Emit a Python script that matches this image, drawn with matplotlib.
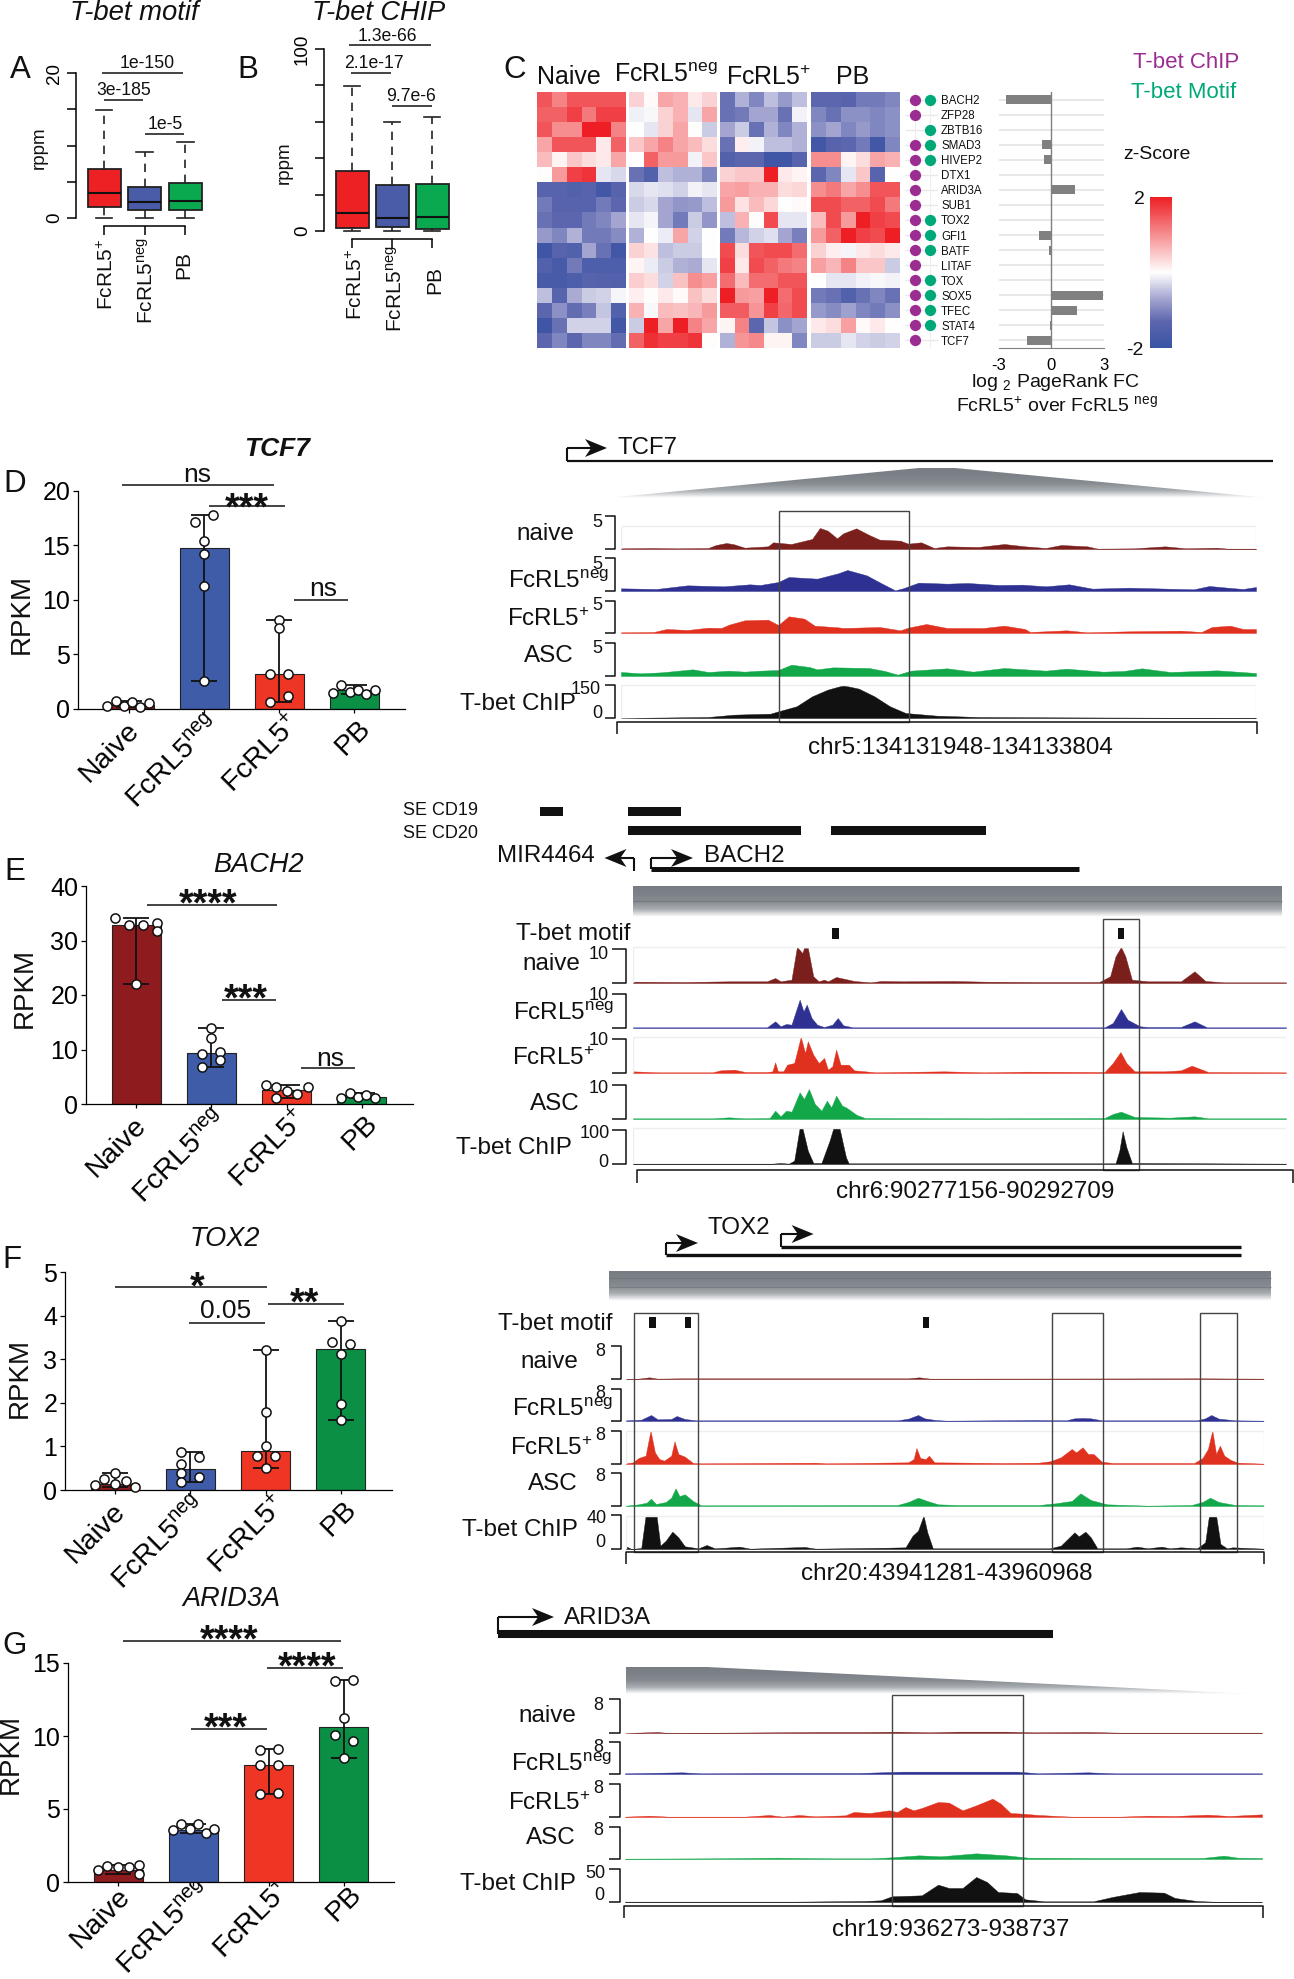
import numpy as np
import matplotlib
matplotlib.use('Agg')
import matplotlib.pyplot as plt
from matplotlib.colors import LinearSegmentedColormap
from matplotlib.patches import Polygon, Rectangle
from matplotlib.transforms import ScaledTranslation

plt.rcParams['font.family'] = ['Liberation Sans', 'DejaVu Sans']
plt.rcParams['mathtext.fontset'] = 'custom'
plt.rcParams['mathtext.rm'] = 'Liberation Sans'
plt.rcParams['mathtext.it'] = 'Liberation Sans:italic'
plt.rcParams['mathtext.bf'] = 'Liberation Sans:bold'

W, H = 1294, 1979
NEG = r'FcRL5$^{\mathrm{neg}}$'
POS = r'FcRL5$^{+}$'

# A / B boxplots: whislo, q1, median, q3, whishi
box_names = [POS, NEG, 'PB']
box_colors = ['#ed2024', '#4a5ba8', '#0aa84f']
motif_pos = [0, 1.5, 3.4, 6.8, 14.9]
motif_neg = [0, 1.05, 2.2, 4.25, 9.15]
motif_pb = [0, 1.05, 2.4, 4.85, 10.5]
chip_pos = [0, 1.5, 9.9, 33, 79.8]
chip_neg = [0, 2, 7.3, 25.3, 60]
chip_pb = [0, 1.3, 7.7, 25.9, 62.6]

# C heatmap z-scores
genes = ['BACH2', 'ZFP28', 'ZBTB16', 'SMAD3', 'HIVEP2', 'DTX1', 'ARID3A', 'SUB1', 'TOX2',
         'GFI1', 'BATF', 'LITAF', 'TOX', 'SOX5', 'TFEC', 'STAT4', 'TCF7']
has_chip = [1, 1, 0, 1, 1, 1, 1, 1, 1, 1, 1, 1, 1, 1, 1, 1, 1]
has_motif = [1, 0, 1, 1, 1, 0, 0, 0, 1, 1, 1, 0, 1, 1, 1, 1, 0]
pagerank_fc = [-2.6, 0, 0, -0.55, -0.42, 0, 1.35, 0, 0, -0.72, -0.15, 0, 0, 2.95, 1.45, -0.05, -1.4]
z_naive = [[1.5, 1.1, 1.5, 1.5, 1.5, 1.5], [1.4, 1.4, 1.7, 1.2, 1.7, 1.7], [1.5, 1, 1, 2, 2, 1.1],
           [.8, 1.5, 1.5, 1.5, .2, 1.4], [.6, .1, .5, .3, .2, .8], [.03, .9, 1.7, 1.8, -.2, -.3],
           [-1.4, -1.4, -1.5, -1.4, -1.8, -1.4], [-1.1, -1.4, -1.4, -1.4, -1.1, -1.3],
           [-1.2, -1.3, -1.3, -1.1, -1, -.7], [-.8, -1, -.6, -1.1, -1.1, -.95],
           [-1.9, -1.4, -1.5, -.7, -1.2, -1.8], [-1.5, -1.7, -1.1, -1.6, -1.6, -1.6],
           [-1.7, -1.7, -1.6, -1.4, -1.45, -1.5], [-.5, -1.4, -.65, -.4, -.35, -.07],
           [-1.3, -.9, -1.25, -1.05, -.45, -1.5], [-1.9, -1.2, -.35, -.35, -.35, -1.8],
           [-1.3, -1, -1.3, -1, -1, -1.25]]
z_neg = [[.4, .05, .8, .7, .2, .4], [-.12, -.06, .4, .7, -.2, .8], [0, -.2, .4, .8, .03, -.4],
         [.5, .8, 1.1, .8, .6, .3], [0, 1.4, .9, .9, -.1, .5], [-1.2, -1.5, -.5, -.6, -.6, -1],
         [-.3, -.2, -.25, -.35, -.1, -.2], [-.4, -.3, -.7, -.85, -.8, -.5],
         [-.2, -.08, -.7, -1.1, -.4, -.85], [-.6, 0, -.15, .8, -.35, 0],
         [.4, .25, -.5, -.4, -.4, 0], [.1, -.15, -.4, -.6, -.65, -.2],
         [.45, .3, -.35, .55, 1, .85], [.15, .02, .2, .06, .55, .3],
         [.7, -.06, .6, .55, .65, .9], [-.4, 2, .8, 2, 1.1, .8], [1.4, 1.85, 1.7, 1.7, 1.8, .02]]
z_pos = [[-1.2, -.6, -1, -.5, -.8, -.5], [-1.2, -1.1, -.7, -.7, -1.2, -.1], [-.7, -.4, -1.2, -.6, -1, -.6],
         [-1.2, .15, -.1, -.5, -.5, -.6], [-1.5, -1.3, -1.3, -1.9, -1.9, -1.4], [.4, .5, .5, 2, .2, .1],
         [.8, .85, .7, .7, .3, .35], [.9, .25, .6, .35, 0, .05], [-.5, .7, .02, 1.6, -.2, -.2],
         [-1.1, -.55, -.35, -.25, -.7, -1.05], [1.6, .3, 1.5, 1.6, 1.6, 1.3], [1.7, .2, 1.6, 1.4, 1.2, 1.1],
         [1.3, .6, 1.3, 1.3, 1.5, 1.5], [2, .9, .85, 2, 1.3, 1.6], [1.45, 1.45, .95, 1.7, 1.35, 1.6],
         [.1, 1.1, -1.3, -.45, -.9, -.7], [-.6, .95, 1.05, .1, .1, -1]]
z_pb = [[-1.3, -1.3, -1.4, -1.1, -1.1, -1], [-1, -1.2, -.9, -.9, -1, -.9], [-.9, -.7, -1, -.8, -1, -.9],
        [-1.8, -1.4, -1.3, -1.1, -1.8, -1], [1, 1, .1, .3, .8, .7], [-1.3, -1, -.2, .5, -1.4, 0],
        [1, 1.2, .8, 1, 1.5, 1.5], [1.6, 1.6, 1.4, 1.4, 1.6, 1.2], [.6, 1.6, .9, 2, 1.7, 1.6],
        [.9, 1.4, 2, 1.7, 1.6, 2], [.4, .15, -.08, .2, .3, .2], [.85, .65, 1.1, .5, .5, -.4],
        [0, -.2, -.2, -.1, -.05, -.1], [-1.1, -1.2, -1.5, -1.2, -1, -1.2], [-.8, -.95, -.75, -1, -1.1, -.9],
        [.2, .3, .85, .05, .2, 0], [-.4, -.4, -.2, -.35, -.4, -.35]]

# D-G bars with replicate points
groups = ['Naive', NEG, POS, 'PB']
bar_colors = ['#8e1b1e', '#3f5ca9', '#ef3524', '#0a8f45']

tcf7_bars = [0.4, 14.8, 3.2, 1.7]
tcf7_pts = [[.25, .7, .3, .6, .2, .55], [17.15, 17.8, 15.4, 14.25, 11.3, 2.57],
            [8.2, 7.4, 3.2, 3.25, .65, 1.15], [1.5, 2.2, 1.55, 1.7, 1.4, 1.7]]
tcf7_off = [[-.29, -.18, -.07, .04, .15, .26], [-.115, .115, 0, 0, 0, 0],
            [0, 0, -.115, .115, -.115, .115], [-.28, -.17, -.06, .05, .16, .28]]

bach2_bars = [32.8, 9.3, 2.6, 1.3]
bach2_pts = [[34.1, 32.8, 32.9, 33.3, 31.7, 22], [13.9, 12.2, 9.2, 9.5, 8, 6.7],
             [3.4, 3.05, 2.4, 1.8, 1.15, 3.2], [1.15, 2, 1.2, 1.6, 1.1]]
bach2_off = [[-.28, -.09, .09, .28, .28, 0], [0, 0, -.12, .12, .12, -.12],
             [-.28, -.14, 0, .14, -.14, .28], [-.28, -.16, -.05, .06, .17]]

tox2_bars = [.13, .48, .9, 3.24]
tox2_pts = [[.11, .25, .38, .14, .21, .06], [.88, .76, .59, .38, .3, .18],
            [3.22, 1.78, 1.02, .79, .78, .5], [3.88, 3.4, 3.35, 3.12, 1.97, 1.6]]
tox2_off = [[-.27, -.14, 0, 0, .14, .27], [-.12, .12, -.12, -.12, .12, -.12],
            [0, 0, 0, -.12, .12, 0], [0, -.12, .12, 0, 0, 0]]

arid3a_bars = [.8, 3.55, 8.0, 10.65]
arid3a_pts = [[.82, 1.12, 1.03, 1.05, 1.17, .55], [3.55, 3.94, 3.62, 3.96, 3.34, 3.66],
              [9.02, 9.14, 8.04, 8.04, 6, 6.11], [13.76, 13.83, 11.22, 10.1, 9.64, 8.52]]
arid3a_off = [[-.27, -.14, 0, .14, .28, .28], [-.27, -.16, -.05, .06, .17, .28],
              [-.12, .12, -.12, .12, -.12, .12], [-.12, .12, 0, -.12, .12, 0]]

# browser tracks, (position, height) read along each locus
tcf7_naive = [(272, 2), (330, 3), (380, 2), (440, 3), (455, 12), (475, 18), (490, 14), (510, 4), (555, 8), (565, 20),
              (600, 15), (640, 30), (655, 63), (670, 55), (688, 32), (700, 47), (725, 62), (750, 42), (770, 28),
              (810, 25), (825, 16), (850, 20), (875, 3), (900, 8), (960, 6), (1010, 15), (1050, 8), (1090, 3),
              (1120, 12), (1170, 8), (1190, 1), (1260, 2), (1320, 8), (1360, 2), (1420, 4), (1440, 1), (1495, 1)]
tcf7_neg = [(272, 8), (340, 6), (400, 17), (470, 14), (520, 20), (540, 18), (575, 27), (595, 42), (650, 37), (690, 53),
            (708, 63), (745, 47), (775, 22), (800, 2), (815, 8), (845, 25), (900, 22), (940, 24), (1000, 18),
            (1045, 19), (1090, 14), (1135, 20), (1180, 7), (1250, 10), (1300, 8), (1375, 5), (1405, 15), (1440, 10),
            (1470, 6), (1495, 12)]
tcf7_pos = [(272, 2), (335, 3), (360, 12), (400, 9), (440, 16), (465, 15), (480, 25), (510, 38), (555, 40), (575, 24),
            (595, 50), (625, 43), (645, 22), (690, 17), (700, 15), (770, 18), (810, 8), (825, 16), (860, 27),
            (900, 15), (970, 15), (1010, 22), (1050, 12), (1060, 3), (1130, 8), (1170, 2), (1250, 5), (1350, 7),
            (1390, 3), (1410, 18), (1445, 22), (1470, 12), (1495, 12)]
tcf7_asc = [(272, 12), (310, 8), (350, 11), (410, 20), (440, 12), (480, 16), (510, 13), (540, 16), (575, 18), (600, 34),
            (635, 27), (650, 20), (680, 26), (750, 24), (780, 15), (805, 4), (830, 16), (900, 23), (950, 13),
            (1010, 24), (1090, 16), (1130, 22), (1200, 13), (1240, 15), (1275, 23), (1330, 12), (1420, 17), (1495, 9)]
tcf7_chip = [(272, 0), (440, 3), (490, 10), (560, 13), (575, 20), (610, 35), (640, 65), (670, 85), (700, 98), (730, 88),
             (760, 65), (790, 35), (820, 15), (880, 7), (960, 3), (1100, 2), (1300, 1), (1495, 0)]

bach2_naive = [(354, 4), (450, 3), (530, 5), (600, 5), (615, 15), (625, 5), (645, 10), (655, 108), (665, 90), (668, 105),
               (675, 105), (685, 20), (695, 5), (705, 10), (712, 5), (727, 18), (760, 6), (790, 2), (810, 6), (850, 5),
               (940, 6), (1000, 4), (1100, 3), (1210, 3), (1230, 20), (1240, 80), (1250, 108), (1258, 80), (1270, 10),
               (1300, 5), (1360, 5), (1385, 35), (1405, 6), (1440, 2), (1553, 2)]
bach2_neg = [(354, 2), (500, 2), (600, 2), (615, 20), (625, 5), (635, 12), (645, 10), (660, 85), (667, 50), (673, 70),
             (682, 30), (692, 10), (705, 3), (720, 10), (730, 30), (740, 8), (758, 2), (1220, 2), (1235, 15), (1250, 57),
             (1262, 25), (1285, 5), (1300, 3), (1360, 3), (1385, 20), (1408, 2), (1553, 2)]
bach2_pos = [(354, 5), (400, 2), (500, 2), (515, 8), (540, 10), (560, 3), (600, 3), (610, 5), (615, 32), (620, 5),
             (630, 5), (637, 25), (650, 30), (662, 108), (670, 60), (675, 95), (685, 55), (695, 30), (705, 45), (712, 10),
             (720, 20), (727, 70), (735, 25), (750, 25), (760, 8), (780, 5), (800, 2), (925, 5), (1000, 2), (1075, 4),
             (1220, 3), (1235, 30), (1249, 63), (1260, 30), (1275, 5), (1330, 5), (1360, 8), (1380, 22), (1410, 3),
             (1553, 2)]
bach2_asc = [(354, 2), (500, 2), (530, 5), (560, 2), (605, 3), (615, 25), (625, 8), (635, 25), (645, 22), (660, 80),
             (668, 60), (677, 90), (688, 45), (700, 25), (710, 55), (718, 35), (727, 70), (738, 40), (745, 35), (765, 12),
             (780, 3), (1000, 2), (1220, 3), (1235, 15), (1250, 22), (1275, 6), (1340, 4), (1385, 8), (1410, 2), (1553, 2)]
bach2_chip = [(354, 1), (610, 1), (625, 3), (640, 1), (650, 10), (660, 108), (665, 108), (675, 40), (685, 3), (700, 3),
              (715, 70), (722, 108), (733, 108), (745, 20), (750, 2), (1240, 2), (1247, 40), (1253, 98), (1260, 50),
              (1270, 3), (1553, 1)]

tox2_naive = [(342, 0), (365, 1), (385, 5), (400, 1), (440, 2), (860, 2), (880, 5), (900, 1), (1400, 2), (1512, 1)]
tox2_neg = [(342, 2), (370, 4), (388, 18), (400, 5), (425, 6), (435, 15), (450, 6), (470, 2), (840, 2), (860, 7),
            (878, 18), (890, 8), (910, 3), (930, 1), (1090, 3), (1150, 2), (1165, 8), (1180, 9), (1195, 8), (1215, 2),
            (1390, 2), (1405, 8), (1416, 18), (1430, 7), (1460, 2), (1512, 1)]
tox2_pos = [(342, 2), (355, 5), (365, 18), (378, 25), (387, 100), (395, 35), (403, 15), (412, 10), (425, 25), (431, 68),
            (438, 30), (450, 22), (465, 3), (480, 2), (690, 4), (710, 2), (860, 5), (870, 15), (875, 48), (882, 18),
            (892, 15), (898, 25), (908, 5), (1040, 3), (1100, 4), (1120, 8), (1140, 20), (1160, 45), (1168, 35),
            (1180, 50), (1190, 30), (1200, 30), (1215, 7), (1235, 3), (1385, 3), (1400, 18), (1410, 45), (1418, 100),
            (1425, 30), (1432, 55), (1440, 25), (1452, 12), (1465, 4), (1512, 1)]
tox2_asc = [(342, 1), (365, 5), (380, 10), (388, 22), (397, 6), (415, 12), (425, 25), (433, 53), (440, 30), (450, 35),
            (465, 15), (480, 2), (840, 3), (860, 12), (878, 25), (895, 15), (915, 5), (950, 3), (1100, 3), (1130, 8),
            (1160, 15), (1176, 38), (1195, 18), (1225, 5), (1300, 1), (1380, 3), (1400, 12), (1414, 25), (1430, 12),
            (1460, 3), (1512, 2)]
tox2_chip = [(342, 8), (352, 0), (370, 3), (378, 100), (398, 100), (405, 10), (415, 25), (427, 52), (438, 35), (450, 8),
             (475, 2), (490, 12), (505, 2), (525, 4), (550, 7), (570, 1), (670, 6), (690, 1), (825, 4), (855, 5),
             (868, 40), (878, 55), (888, 100), (895, 50), (905, 2), (1120, 2), (1140, 10), (1165, 50), (1173, 38),
             (1185, 52), (1195, 35), (1207, 2), (1260, 2), (1280, 7), (1300, 2), (1325, 7), (1340, 2), (1360, 5),
             (1390, 2), (1405, 20), (1412, 100), (1425, 100), (1433, 15), (1445, 2), (1455, 5), (1512, 1)]

arid3a_naive = [(340, 0), (400, 3), (420, 0), (700, 3), (780, 3), (840, 4), (900, 2), (950, 4), (1040, 4), (1090, 2),
                (1190, 3), (1250, 1), (1510, 1)]
arid3a_neg = [(340, 2), (445, 5), (480, 2), (600, 3), (770, 3), (850, 7), (950, 7), (1060, 7), (1100, 2), (1190, 5),
              (1240, 2), (1510, 2)]
arid3a_pos = [(340, 1), (385, 4), (420, 1), (560, 1), (605, 6), (630, 1), (660, 6), (690, 2), (745, 5), (760, 15),
              (790, 12), (825, 20), (840, 15), (855, 30), (870, 20), (885, 27), (915, 45), (935, 43), (960, 20), (985, 35),
              (1015, 55), (1030, 40), (1048, 12), (1070, 10), (1100, 6), (1160, 1), (1250, 1), (1300, 4), (1350, 3),
              (1410, 7), (1450, 3), (1510, 8)]
arid3a_asc = [(340, 1), (500, 2), (620, 4), (720, 2), (790, 2), (830, 5), (880, 11), (920, 8), (985, 17), (1040, 11),
              (1080, 4), (1200, 3), (1400, 3), (1440, 10), (1465, 4), (1510, 3)]
arid3a_chip = [(340, 1), (650, 1), (780, 3), (810, 5), (830, 17), (885, 20), (915, 52), (935, 42), (960, 42), (985, 75),
               (1005, 60), (1025, 30), (1060, 27), (1075, 8), (1110, 2), (1200, 2), (1235, 15), (1285, 30), (1330, 28),
               (1350, 12), (1390, 3), (1420, 1), (1510, 0)]

track_colors = ['#7a1f1c', '#2e3192', '#e0301e', '#12a84a', '#111111']

fig = plt.figure(figsize=(W / 100, H / 100), dpi=100)


def px_axes(x0, y0, x1, y1):
    return fig.add_axes([x0 / W, 1 - y1 / H, (x1 - x0) / W, (y1 - y0) / H])


ov = fig.add_axes([0, 0, 1, 1], zorder=10)
ov.set_xlim(0, W)
ov.set_ylim(H, 0)
ov.axis('off')


def txt(x, y, s, size, ha='center', va='center', **kw):
    # matplotlib's line box sits a little high compared with the glyphs
    if 'rotation' not in kw and va == 'center':
        y = y + 1.5
    ov.text(x, y, s, fontsize=size, ha=ha, va=va, color=kw.pop('color', '#111111'), **kw)


def line(xs, ys, lw=1.0, color='#111111', **kw):
    ov.plot(xs, ys, color=color, lw=lw, solid_capstyle='butt', **kw)


def stars(xc, yc, n):
    # baseline sits under the glyph centre
    ov.text(xc, yc + 19, '*' * n, fontsize=27, fontweight='bold', ha='center', va='baseline', color='#111111')


def sig(x0, x1, y, label, xc, yc):
    line([x0, x1], [y, y], lw=1.1)
    if label.startswith('*'):
        stars(xc, yc, len(label))
    else:
        txt(xc, yc, label, 19)


def arrow(x, y, tip, direction=1, lw=1.5):
    # bent promoter arrow standing on the gene line
    stem = y[1]
    line([x, x], y, lw=lw)
    line([x, tip - direction * 8], [stem, stem], lw=lw)
    w, h = 22 * direction, 9
    ov.add_patch(Polygon([(tip, stem), (tip - w, stem - h), (tip - w * 0.72, stem), (tip - w, stem + h)],
                         closed=True, fc='#111111', ec='none'))


grey_fade = LinearSegmentedColormap.from_list('fade', ['#ffffff', '#a9adb1', '#858b90', '#7c8288', '#777d83'])


def gradient(verts, streaks=()):
    xs = [v[0] for v in verts]
    ys = [v[1] for v in verts]
    im = ov.imshow(np.linspace(1, 0, 80)[:, None], extent=(min(xs), max(xs), max(ys), min(ys)),
                   aspect='auto', cmap=grey_fade, vmin=0, vmax=1, zorder=1)
    im.set_clip_path(Polygon(verts, transform=ov.transData))
    for y in streaks:
        line([min(xs), max(xs)], [y, y], lw=0.8, color='#6a7075', alpha=0.6, zorder=2)
    ov.set_xlim(0, W)
    ov.set_ylim(H, 0)


def box_panel(x_axis, x1, x2, y_top, y_base, ymax, ticks, labels, stats):
    ax = px_axes(x_axis, y_top, x_axis + 130, y_base)
    step = x2 - x1
    ax.set_xlim((x_axis - x1) / step + 1, (x_axis + 130 - x1) / step + 1)
    ax.set_ylim(0, ymax)
    bx = [dict(whislo=s[0], q1=s[1], med=s[2], q3=s[3], whishi=s[4], fliers=[]) for s in stats]
    art = ax.bxp(bx, positions=[1, 2, 3], widths=33 / step, patch_artist=True, manage_ticks=False,
                 whiskerprops=dict(ls=(0, (5, 4)), lw=1.2, color='#222222'),
                 capprops=dict(lw=1.2, color='#222222'),
                 medianprops=dict(lw=1.5, color='#111111'),
                 boxprops=dict(lw=1.3, edgecolor='#222222'))
    for p, c in zip(art['boxes'], box_colors):
        p.set_facecolor(c)
    for a in art['whiskers'] + art['caps'] + art['medians']:
        a.set_clip_on(False)
    ax.patch.set_visible(False)
    for s in ['top', 'right']:
        ax.spines[s].set_visible(False)
    ax.spines['left'].set_linewidth(1.1)
    ax.spines['left'].set_bounds(0, ymax)
    ax.spines['bottom'].set_position(('outward', 5.8))
    ax.spines['bottom'].set_bounds(1, 3)
    ax.spines['bottom'].set_linewidth(1.1)
    ax.set_xticks([1, 2, 3], ['', '', ''])
    ax.tick_params(axis='x', length=6.5, width=1.1)
    ax.set_yticks(ticks, labels, rotation=90, va='center', fontsize=13.5)
    ax.tick_params(axis='y', length=6.5, width=1.1, pad=3)
    return ax


# nudges of the slanted labels in px, right and up
label_shift = [(11, 4), (16, 10), (22, 10), (17, 6)]


def bar_panel(left, right, y_top, y_base, c1, step, ymax, ticks, bars, pts, off, extra=(0, 0)):
    ax = px_axes(left, y_top, right, y_base)
    ax.set_xlim((left - c1) / step + 1, (right - c1) / step + 1)
    ax.set_ylim(0, ymax)
    xs = np.arange(1, 5)
    ax.bar(xs, bars, width=49 / step, color=bar_colors, edgecolor='#222222', linewidth=0.8, zorder=2)
    for x, b, p, o in zip(xs, bars, pts, off):
        lo, hi = min(p), max(p)
        ax.errorbar(x, b, yerr=[[max(b - lo, 0)], [max(hi - b, 0)]], color='#111111', elinewidth=1.3,
                    capsize=9.7, capthick=1.3, zorder=3, clip_on=False)
        ax.plot(x + np.array(o), p, 'o', ms=6.6, mfc='white', mec='#111111', mew=1.1, zorder=5, clip_on=False)
    for s in ['top', 'right']:
        ax.spines[s].set_visible(False)
    ax.spines['left'].set_linewidth(0.9)
    ax.spines['bottom'].set_linewidth(0.9)
    ax.patch.set_visible(False)
    ax.set_yticks(ticks)
    ax.tick_params(axis='y', labelsize=18, length=3.5, width=0.9, pad=2)
    ax.set_xticks(xs)
    ax.set_xticklabels(groups, rotation=45, ha='right', va='baseline', rotation_mode='anchor', fontsize=20.5)
    ax.tick_params(axis='x', length=3, width=0.9, pad=16)
    for lab, (dx, dy) in zip(ax.get_xticklabels(), label_shift):
        shift = ScaledTranslation((dx + extra[0]) / 100, (dy + extra[1]) / 100, fig.dpi_scale_trans)
        lab.set_transform(lab.get_transform() + shift)
    return ax


def track(profile, color, x0, x1, base, read0, read1, frame=None):
    ax = px_axes(x0, base - 110 / 3, x1, base)
    ax.set_xlim(read0, read1)
    ax.set_ylim(0, 110)
    ax.axis('off')
    a = np.array(profile, dtype=float)
    ax.fill_between(a[:, 0], 0, a[:, 1], color=color, lw=0.3)
    if frame is not None:
        ax.plot([read0, read0, read1, read1], [0, frame, frame, 0], color='#eeeeee', lw=1)


def scale_bar(x0, x1, y, tick_y, label, xc, yc):
    line([x0, x0, x1, x1], [tick_y, y, y, tick_y], lw=1.1)
    txt(xc, yc, label, 17.5)


def bracket(x, left, top, base):
    line([left, x, x, left], [top, top, base, base], lw=1.1)


def hbox(x0, x1, y0, y1):
    ov.add_patch(Rectangle((x0, y0), x1 - x0, y1 - y0, fc='none', ec='#444444', lw=1))


# ---------- A, B
box_panel(76, 104, 144.7, 73, 218, 20, [0, 5, 10, 15, 20], ['0', '', '', '', '20'],
          [motif_pos, motif_neg, motif_pb])
box_panel(324, 352, 392, 49, 231, 100, [0, 20, 40, 60, 80, 100], ['0', '', '', '', '', '100'],
          [chip_pos, chip_neg, chip_pb])
txt(134, 11, 'T-bet motif', 19.8, style='italic')
txt(379, 11, 'T-bet CHIP', 19.5, style='italic')
txt(39, 148, 'rppm', 13.5, rotation=90)
txt(284, 163, 'rppm', 13.5, rotation=90)
for x, y, s in [(107, 238, POS), (147, 237, NEG), (184, 251, 'PB'), (356, 248, POS), (396, 245, NEG), (435, 266, 'PB')]:
    txt(x, y, s, 15, va='top', rotation=90)
for x0, x1, y, s, xc, yc in [(102, 183, 73, '1e-150', 147, 62), (104, 143, 100, '3e-185', 124, 89),
                             (145, 184, 134, '1e-5', 165, 123), (349, 431, 45, '1.3e-66', 387, 35),
                             (351, 391, 73, '2.1e-17', 374, 62), (392, 432, 106, '9.7e-6', 411, 95)]:
    line([x0, x1], [y, y], lw=1.1)
    txt(xc, yc, s, 12.7)
for x, y, s in [(20, 69, 'A'), (248, 69, 'B'), (515, 69, 'C'), (15, 483, 'D'), (15, 870, 'E'), (12, 1258, 'F'), (15, 1645, 'G')]:
    txt(x, y, s, 22.5)

# ---------- C
cmap = LinearSegmentedColormap.from_list(
    'bwr2', [(0, '#3953a4'), (0.175, '#5c66ae'), (0.325, '#a3a5d0'), (0.5, '#ffffff'), (1, '#ed1f24')])
mesh = None
for z, (x0, x1) in zip([z_naive, z_neg, z_pos, z_pb], [(537, 626), (629, 717), (720, 807), (811, 900)]):
    ax = px_axes(x0, 92, x1, 348)
    mesh = ax.pcolormesh(np.array(z), cmap=cmap, vmin=-2, vmax=2, rasterized=True)
    ax.set_ylim(17, 0)
    ax.axis('off')
for x, y, s in [(569, 75, 'Naive'), (666, 73, NEG), (769, 76, POS), (853, 75, 'PB')]:
    txt(x, y, s, 18)

rows = np.arange(17) + 0.5
dots = px_axes(905, 92, 938, 348)
dots.set_xlim(-0.67, 1.53)
dots.set_ylim(17, 0)
dots.axis('off')
dots.hlines(rows, -0.67, 1.53, color='#e8e8e8', lw=1, zorder=1)
dots.vlines([0, 1], 0, 17, color='#eeeeee', lw=0.8, zorder=1)
dots.scatter(np.zeros(17)[np.array(has_chip) == 1], rows[np.array(has_chip) == 1], s=50, color='#9b2d92', zorder=3)
dots.scatter(np.ones(17)[np.array(has_motif) == 1], rows[np.array(has_motif) == 1], s=50, color='#00a878', zorder=3)
for g, r in zip(genes, rows):
    txt(941, 92 + r * 256 / 17, g, 8.3, ha='left')

fc = px_axes(999, 92, 1103.5, 348)
fc.set_xlim(-3, 3)
fc.set_ylim(17, 0)
fc.hlines(rows, -3, 3, color='#e6e6e6', lw=1.3, zorder=1)
fc.barh(rows, pagerank_fc, height=0.6, color='#808080', zorder=3)
fc.axvline(0, color='#808080', lw=1, zorder=2)
for s in ['top', 'right', 'left']:
    fc.spines[s].set_visible(False)
fc.spines['bottom'].set_color('#808080')
fc.set_yticks([])
fc.set_xticks([-3, 0, 3], ['-3', '0', '3'])
fc.tick_params(axis='x', length=0, labelsize=12, pad=7)
txt(1055, 381, r'log $_{2}$ PageRank FC', 14)
txt(1057, 405, r'FcRL5$^{+}$ over FcRL5 $^{\mathrm{neg}}$', 14)
txt(1186, 61, 'T-bet ChIP', 16, color='#9b2d92')
txt(1184, 91, 'T-bet Motif', 16, color='#00a878')
txt(1157, 153, 'z-Score', 14)
cax = px_axes(1150, 197, 1172, 348)
fig.colorbar(mesh, cax=cax, ticks=[])
cax.spines['outline'].set_visible(False)
txt(1139, 198, '2', 14)
txt(1135, 349, '-2', 14)

# ---------- D
bar_panel(78, 405, 491, 709, 129, 75, 20, [0, 5, 10, 15, 20], tcf7_bars, tcf7_pts, tcf7_off)
txt(277, 448, 'TCF7', 19, style='italic', fontweight='bold')
txt(22, 614, 'RPKM', 20, rotation=90)
sig(122, 274, 485, 'ns', 197, 474)
sig(209, 285, 506, '***', 247, 500)
sig(294, 348, 600, 'ns', 323, 588)

arrow(567, (461, 448), 607)
line([567, 1273], [461, 461], lw=1.6)
txt(618, 446, 'TCF7', 17.3, ha='left')
gradient([(607, 498), (919, 468), (955, 468), (1269, 498)])
for p, c, b in zip([tcf7_naive, tcf7_neg, tcf7_pos, tcf7_asc, tcf7_chip], track_colors, [549, 591, 633, 676, 718]):
    track(p, c, 621, 1256, b, 272, 1495, frame=68 if b == 549 else (98 if b == 718 else None))
for top, b in zip([516, 558, 601, 643, 685], [549, 591, 633, 676, 718]):
    bracket(615, 605, top, b)
for x, y, s in [(597, 521, '5'), (597, 563, '5'), (597, 604, '5'), (597, 647, '5'), (586, 688, '150'), (597, 712, '0')]:
    txt(x, y, s, 13)
txt(574, 532, 'naive', 17.5, ha='right')
txt(609, 580, NEG, 17.5, ha='right')
txt(590, 618, POS, 17.5, ha='right')
txt(574, 654, 'ASC', 17.5, ha='right')
txt(576, 703, 'T-bet ChIP', 17.5, ha='right')
hbox(778.5, 909, 511, 722)
scale_bar(617, 1257, 722, 734, 'chr5:134131948-134133804', 960, 746)

# ---------- E
bar_panel(86, 413, 886, 1104, 136, 75.3, 40, [0, 10, 20, 30, 40], bach2_bars, bach2_pts, bach2_off)
txt(258, 863, 'BACH2', 19.5, style='italic')
txt(25, 988, 'RPKM', 20, rotation=90)
sig(147, 277, 905, '****', 208, 896)
sig(222, 276, 1000, '***', 246, 991)
sig(301, 355, 1068, 'ns', 330, 1057)

txt(403, 809, 'SE CD19', 13, ha='left')
txt(403, 832, 'SE CD20', 13, ha='left')
for x0, x1, y0, y1 in [(540, 563, 807, 816), (628, 681, 807, 816), (628, 801, 826, 835), (831, 986, 826, 835)]:
    ov.add_patch(Rectangle((x0, y0), x1 - x0, y1 - y0, fc='#111111', ec='none'))
txt(497, 855, 'MIR4464', 17.4, ha='left')
arrow(634, (871, 858), 604.5, direction=-1)
arrow(651, (869, 858), 693)
line([651, 1079], [869, 869], lw=3.6)
txt(704, 855, 'BACH2', 17.4, ha='left')
gradient([(633, 917), (633, 886), (1281.5, 886), (1281.5, 917)], streaks=[901])
txt(630.6, 932, 'T-bet motif', 17.5, ha='right')
for x0, x1 in [(832, 839), (1117.5, 1124)]:
    ov.add_patch(Rectangle((x0, 928), x1 - x0, 11, fc='#111111', ec='none'))
for p, c, b in zip([bach2_naive, bach2_neg, bach2_pos, bach2_asc, bach2_chip], track_colors, [983, 1028, 1073, 1119, 1164]):
    track(p, c, 633, 1286, b, 354, 1553, frame=108 if b in (983, 1073, 1164) else None)
for top, b in zip([949, 994, 1039, 1085, 1130], [983, 1028, 1073, 1119, 1164]):
    bracket(626, 611.6, top, b)
for x, y, s in [(599, 953, '10'), (599, 994, '10'), (599, 1039, '10'), (599, 1087, '10'), (595, 1132, '100'), (603, 1161, '0')]:
    txt(x, y, s, 13)
txt(580, 963, 'naive', 17.5, ha='right')
txt(614, 1012, NEG, 17.5, ha='right')
txt(595, 1057, POS, 17.5, ha='right')
txt(580, 1102, 'ASC', 17.5, ha='right')
txt(572, 1147, 'T-bet ChIP', 17.5, ha='right')
hbox(1103, 1139, 919, 1170)
scale_bar(637, 1293, 1170, 1183, 'chr6:90277156-90292709', 975, 1190)

# ---------- F
bar_panel(65, 392, 1272, 1490, 115, 75.3, 5, [0, 1, 2, 3, 4, 5], tox2_bars, tox2_pts, tox2_off)
txt(225, 1237, 'TOX2', 19.5, style='italic')
txt(20, 1378, 'RPKM', 20, rotation=90)
sig(115, 267, 1287, '*', 197, 1279)
sig(189, 265, 1323, '0.05', 226, 1310)
sig(268, 344, 1304, '**', 304, 1295)

arrow(665.5, (1255, 1243), 698)
arrow(781, (1247, 1234), 813.6)
line([665.5, 1241], [1255, 1255], lw=2.4)
line([781, 1241], [1247, 1247], lw=2.4)
txt(738.5, 1226, 'TOX2', 17.4)
gradient([(609, 1301), (609, 1271), (1270.6, 1271), (1270.6, 1301)], streaks=[1278, 1287])
txt(612, 1323, 'T-bet motif', 17.5, ha='right')
for x0, x1 in [(649, 656), (684.5, 691), (922.6, 929)]:
    ov.add_patch(Rectangle((x0, 1317), x1 - x0, 11, fc='#111111', ec='none'))
for p, c, b in zip([tox2_naive, tox2_neg, tox2_pos, tox2_asc, tox2_chip], track_colors, [1379, 1421, 1464, 1506, 1549]):
    track(p, c, 626, 1263.5, b, 342, 1512, frame=100 if b in (1464, 1549) else None)
for top, b in zip([1346, 1389, 1431, 1473, 1515], [1379, 1421, 1464, 1506, 1549]):
    bracket(621, 610.5, top, b)
for x, y, s in [(600.7, 1350, '8'), (600.7, 1392, '8'), (600.7, 1434, '8'), (600.7, 1475, '8'), (597, 1517, '40'), (600, 1541, '0')]:
    txt(x, y, s, 13)
txt(578, 1361, 'naive', 17.5, ha='right')
txt(613, 1408, NEG, 17.5, ha='right')
txt(592.5, 1447, POS, 17.5, ha='right')
txt(578, 1483, 'ASC', 17.5, ha='right')
txt(578, 1529, 'T-bet ChIP', 17.5, ha='right')
for x0, x1 in [(634, 698), (1052, 1103), (1200, 1237)]:
    hbox(x0, x1, 1313, 1552)
scale_bar(626, 1263.5, 1552, 1564, 'chr20:43941281-43960968', 946.5, 1573)

# ---------- G
bar_panel(68, 394, 1663, 1882, 118, 75.3, 15, [0, 5, 10, 15], arid3a_bars, arid3a_pts, arid3a_off, extra=(2, 7))
txt(231, 1597, 'ARID3A', 19.5, style='italic')
txt(11, 1754, 'RPKM', 20, rotation=90)
sig(123, 341, 1641, '****', 229, 1632)
sig(267, 343, 1668, '****', 307, 1659)
sig(191, 267, 1729, '***', 226, 1720)

arrow(498, (1634, 1617), 554)
line([498, 1053], [1634, 1634], lw=5.8)
txt(564, 1617, 'ARID3A', 17.4, ha='left')
gradient([(626, 1694), (626, 1667), (707, 1667), (1251.6, 1694)])
for p, c, b in zip([arid3a_naive, arid3a_neg, arid3a_pos, arid3a_asc, arid3a_chip], track_colors, [1733, 1774, 1817, 1859, 1902]):
    track(p, c, 625, 1262, b, 340, 1510)
for top, b in zip([1699, 1742, 1784, 1827, 1869], [1733, 1774, 1817, 1859, 1902]):
    bracket(620, 609, top, b)
for x, y, s in [(598.5, 1704, '8'), (598.5, 1746, '8'), (598.5, 1787, '8'), (598.5, 1829, '8'), (595, 1872, '50'), (599.6, 1894, '0')]:
    txt(x, y, s, 13)
txt(576, 1715, 'naive', 17.5, ha='right')
txt(611.6, 1763, NEG, 17.5, ha='right')
txt(591, 1802, POS, 17.5, ha='right')
txt(576, 1837, 'ASC', 17.5, ha='right')
txt(576, 1883, 'T-bet ChIP', 17.5, ha='right')
hbox(892, 1023, 1695, 1906)
scale_bar(624, 1262.5, 1906, 1918, 'chr19:936273-938737', 951, 1929)

fig.savefig('out.png', dpi=100)
